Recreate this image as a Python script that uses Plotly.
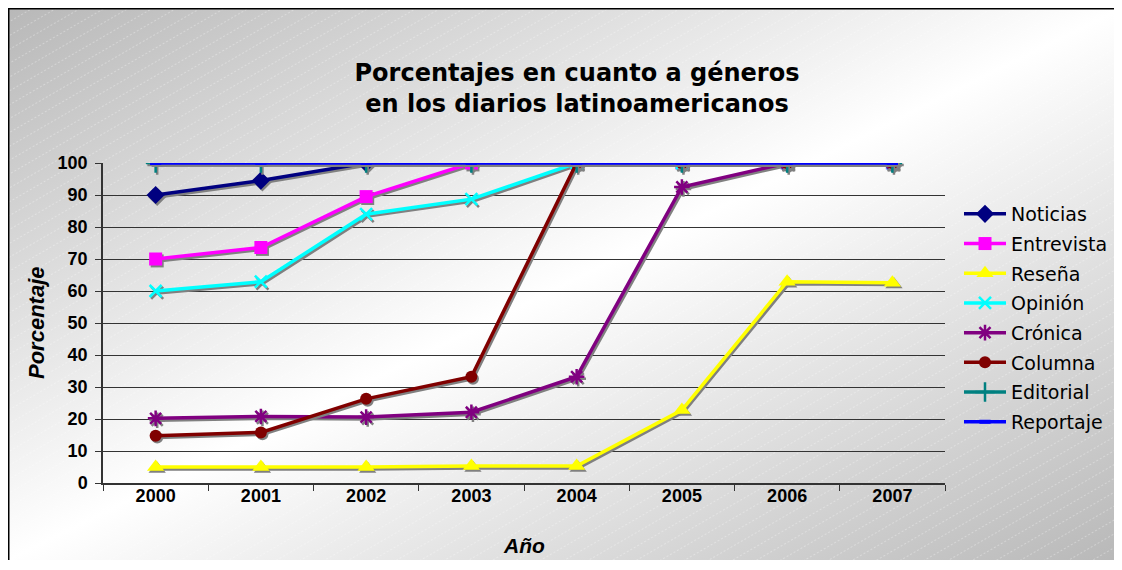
import base64
import plotly.graph_objects as go

years = [2000, 2001, 2002, 2003, 2004, 2005, 2006, 2007]
year_labels = ['2000', '2001', '2002', '2003', '2004', '2005', '2006', '2007']

noticias = [90, 94.5, 100, 100, 100, 100, 100, 100]
entrevista = [70, 73.6, 89.5, 100, 100, 100, 100, 100]
resena = [5, 5, 5, 5.3, 5.3, 22.8, 62.9, 62.6]
opinion = [60, 62.9, 84, 88.7, 100, 100, 100, 100]
cronica = [20.2, 20.8, 20.6, 22.1, 33.2, 92.5, 100, 100]
columna = [14.8, 15.8, 26.3, 33.2, 100, 100, 100, 100]
editorial = [100, 100, 100, 100, 100, 100, 100, 100]
reportaje = [100, 100, 100, 100, 100, 100, 100, 100]

series = [
    ('Noticias', noticias, '#000080', 'diamond', 14),
    ('Entrevista', entrevista, '#FF00FF', 'square', 13),
    ('Reseña', resena, '#FFFF00', 'triangle-up', 15),
    ('Opinión', opinion, '#00FFFF', 'x-thin', 12),
    ('Crónica', cronica, '#800080', 'asterisk', 13),
    ('Columna', columna, '#800000', 'circle', 12),
    ('Editorial', editorial, '#008080', 'cross-thin', 14),
    ('Reportaje', reportaje, '#0000FF', 'line-ew', 8),
]

# the page body has an 8px margin; keep the figure inside the window (no scrollbars)
OFF = 8
W, H = 1122 - OFF, 570 - 2 * OFF - 2
# plot area, in figure pixels
L, R, T, B = 103 - OFF, 945 - OFF, 163 - OFF, 483 - OFF

# background: diagonal gray-white-gray gradient with faint stripes + border
svg = f'''<svg xmlns="http://www.w3.org/2000/svg" width="{W}" height="{H}" viewBox="0 0 {W} {H}" preserveAspectRatio="none">
<defs>
<linearGradient id="g" x1="0" y1="0" x2="1" y2="1">
<stop offset="0" stop-color="#b8b8b8"/><stop offset="0.5" stop-color="#ffffff"/><stop offset="1" stop-color="#b8b8b8"/>
</linearGradient>
<pattern id="p" width="12" height="12" patternUnits="userSpaceOnUse" patternTransform="rotate(-30)">
<line x1="0" y1="0" x2="12" y2="0" stroke="#ffffff" stroke-width="1" stroke-dasharray="2 2" opacity="0.6"/>
</pattern>
</defs>
<rect x="0" y="0" width="{W}" height="{H}" fill="url(#g)"/>
<rect x="0" y="0" width="{W}" height="{H}" fill="url(#p)"/>
<line x1="0" y1="0.75" x2="{W}" y2="0.75" stroke="#000000" stroke-width="1.5"/>
<line x1="0.75" y1="0" x2="0.75" y2="{H}" stroke="#000000" stroke-width="1.5"/>
</svg>'''
bg_src = 'data:image/svg+xml;base64,' + base64.b64encode(svg.encode('utf-8')).decode('ascii')


def px_x(p):
    # page pixel -> paper x
    return (p - OFF - L) / (R - L)


def px_y(p):
    # page pixel -> paper y
    return (B - (p - OFF)) / (B - T)


def marker_style(color, symbol, size):
    if symbol in ('x-thin', 'asterisk', 'cross-thin', 'line-ew'):
        w = 4 if symbol == 'line-ew' else 2.5
        return dict(symbol=symbol, size=size, color=color, line=dict(color=color, width=w))
    return dict(symbol=symbol, size=size, color=color, line=dict(width=0))


fig = go.Figure()

for name, vals, color, symbol, size in series:
    # gray drop shadow under each series
    fig.add_trace(go.Scatter(
        x=[y + 0.015 for y in years], y=[v - 0.6 for v in vals],
        mode='lines+markers', legendgroup=name, showlegend=False, hoverinfo='skip',
        line=dict(color='#808080', width=3.5),
        marker=marker_style('#808080', symbol, size)))
    fig.add_trace(go.Scatter(
        x=years, y=vals, name=name, legendgroup=name,
        mode='lines+markers',
        line=dict(color=color, width=3.5),
        marker=marker_style(color, symbol, size)))

fig.update_layout(
    width=W, height=H,
    margin=dict(l=L, r=W - R, t=T, b=H - B, autoexpand=False),
    paper_bgcolor='white',
    plot_bgcolor='rgba(0,0,0,0)',
    title=dict(text='Porcentajes en cuanto a géneros<br>en los diarios latinoamericanos',
               x=(577 - OFF) / W, xanchor='center', y=1 - 73 / H, yanchor='middle',
               font=dict(family='DejaVu Sans', size=24, color='black', weight='bold')),
    legend=dict(x=px_x(959), y=px_y(195), xanchor='left', yanchor='top',
                bgcolor='rgba(0,0,0,0)', tracegroupgap=2, itemwidth=42,
                font=dict(family='DejaVu Sans', size=19, color='black')),
    images=[dict(source=bg_src, xref='paper', yref='paper',
                 x=-L / (R - L), y=1 + T / (B - T), sizex=W / (R - L), sizey=H / (B - T),
                 xanchor='left', yanchor='top', sizing='stretch', layer='below')],
    annotations=[
        dict(text='<b><i>Porcentaje</i></b>', xref='paper', yref='paper',
             x=px_x(36), y=px_y(323), xanchor='center', yanchor='middle',
             textangle=-90, showarrow=False,
             font=dict(family='Liberation Sans', size=22, color='black')),
        dict(text='<b><i>Año</i></b>', xref='paper', yref='paper',
             x=px_x(524), y=px_y(545), xanchor='center', yanchor='middle', showarrow=False,
             font=dict(family='Liberation Sans', size=21, color='black')),
    ],
)

fig.update_xaxes(
    range=[1999.5, 2007.5], tickvals=years, ticktext=year_labels,
    ticks='', showgrid=False, zeroline=False,
    showline=True, linecolor='#333333', linewidth=1.5,
    tickfont=dict(family='Liberation Sans', size=18, color='black', weight='bold'),
    ticklabelstandoff=-4,
    minor=dict(tick0=1999.5, dtick=1, ticks='outside', ticklen=6,
               tickcolor='#333333', showgrid=False),
)
fig.update_yaxes(
    range=[0, 100], dtick=10, ticks='outside', ticklen=6, tickcolor='#333333',
    showgrid=True, gridcolor='#333333', gridwidth=1, zeroline=False,
    showline=True, linecolor='#333333', linewidth=1.5,
    tickfont=dict(family='Liberation Sans', size=18, color='black', weight='bold'),
    ticklabelstandoff=4,
)

fig.write_html("out.html")
